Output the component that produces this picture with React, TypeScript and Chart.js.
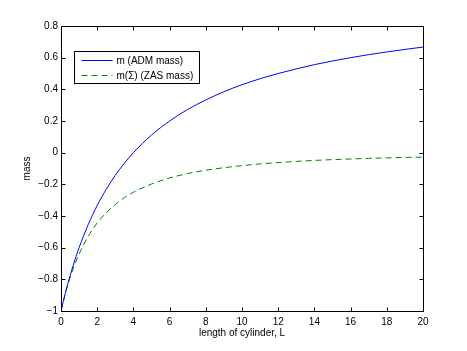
import React, { useEffect, useRef } from "react";
import { Chart, registerables } from "chart.js";

Chart.register(...registerables);

const lengths = [0, 0.25, 0.5, 0.75, 1, 1.5, 2, 2.5, 3, 3.5, 4, 5, 6, 7, 8, 9, 10, 11, 12, 13, 14, 15, 16, 17, 18, 19, 20];
const admMass = [-1, -0.882, -0.778, -0.684, -0.6, -0.455, -0.333, -0.231, -0.143, -0.067, 0, 0.111, 0.2, 0.273, 0.333, 0.385, 0.429, 0.467, 0.5, 0.529, 0.556, 0.579, 0.6, 0.619, 0.636, 0.652, 0.667];
const zasMass = [-1, -0.886, -0.79, -0.709, -0.64, -0.529, -0.444, -0.379, -0.327, -0.284, -0.25, -0.198, -0.16, -0.132, -0.111, -0.095, -0.082, -0.071, -0.0625, -0.055, -0.049, -0.044, -0.04, -0.036, -0.033, -0.03, -0.028];
const seriesLabels = ["m (ADM mass)", "m(\u03A3) (ZAS mass)"];
const xTitle = "length of cylinder, L";
const yTitle = "mass";

const FONT = "'Liberation Sans', Arial, Helvetica, sans-serif";

const fmt = (v: number) => {
  const r = Number(Number(v).toFixed(1));
  const s = String(Math.abs(r));
  return r < 0 ? "\u2212" + s : s;
};

const framePlugin = {
  id: "frame",
  afterDatasetsDraw(chart: any) {
    const { ctx, chartArea: a, scales } = chart;
    const L = Math.round(a.left) + 0.5;
    const R = Math.round(a.right) + 0.5;
    const T = Math.round(a.top) + 0.5;
    const B = Math.round(a.bottom) + 0.5;
    ctx.save();
    ctx.strokeStyle = "#000";
    ctx.lineWidth = 1;
    ctx.setLineDash([]);
    ctx.strokeRect(L, T, R - L, B - T);
    const tl = 4;
    ctx.beginPath();
    scales.x.ticks.forEach((t: any) => {
      const px = Math.round(scales.x.getPixelForValue(t.value)) + 0.5;
      ctx.moveTo(px, B);
      ctx.lineTo(px, B - tl);
      ctx.moveTo(px, T);
      ctx.lineTo(px, T + tl);
    });
    scales.y.ticks.forEach((t: any) => {
      const py = Math.round(scales.y.getPixelForValue(t.value)) + 0.5;
      ctx.moveTo(L, py);
      ctx.lineTo(L + tl, py);
      ctx.moveTo(R, py);
      ctx.lineTo(R - tl, py);
    });
    ctx.stroke();

    // legend
    const bx = Math.round(a.left) + 13.5;
    const by = Math.round(a.top) + 25.5;
    const bw = 125;
    const bh = 32;
    ctx.fillStyle = "#fff";
    ctx.fillRect(bx, by, bw, bh);
    ctx.strokeStyle = "#000";
    ctx.strokeRect(bx, by, bw, bh);
    ctx.font = "10px " + FONT;
    ctx.textBaseline = "middle";
    ctx.textAlign = "left";
    chart.data.datasets.forEach((ds: any, i: number) => {
      const y = by + 9 + i * 15;
      ctx.strokeStyle = ds.borderColor;
      ctx.lineWidth = 1;
      ctx.setLineDash(ds.borderDash || []);
      ctx.beginPath();
      ctx.moveTo(bx + 7, y);
      ctx.lineTo(bx + 38, y);
      ctx.stroke();
      ctx.setLineDash([]);
      ctx.fillStyle = "#000";
      ctx.fillText(ds.label, bx + 42, y + 0.5);
    });
    ctx.restore();
  },
};

export default function App() {
  const ref = useRef<HTMLCanvasElement>(null);
  useEffect(() => {
    if (!ref.current) return;
    const chart = new Chart(ref.current, {
      type: "line",
      data: {
        datasets: [
          {
            label: seriesLabels[0],
            data: lengths.map((x, i) => ({ x, y: admMass[i] })),
            borderColor: "#0000ff",
            borderWidth: 1,
            pointRadius: 0,
            cubicInterpolationMode: "monotone",
            fill: false,
          },
          {
            label: seriesLabels[1],
            data: lengths.map((x, i) => ({ x, y: zasMass[i] })),
            borderColor: "#008000",
            borderWidth: 1,
            borderDash: [6, 4],
            pointRadius: 0,
            cubicInterpolationMode: "monotone",
            fill: false,
          },
        ],
      },
      options: {
        animation: false,
        responsive: true,
        maintainAspectRatio: false,
        layout: { padding: { top: 26, right: 44, left: 0, bottom: 0 } },
        plugins: { legend: { display: false }, tooltip: { enabled: false } },
        scales: {
          x: {
            type: "linear",
            min: 0,
            max: 20,
            grid: { display: false, drawTicks: false },
            border: { display: false },
            ticks: { stepSize: 2, padding: 5, color: "#000", font: { family: FONT, size: 10 }, maxRotation: 0, callback: (v: any) => fmt(v) },
            title: { display: true, text: xTitle, color: "#000", font: { family: FONT, size: 10 }, padding: { top: 0, bottom: 12 } },
            afterFit: (s: any) => { s.height = 40; },
          },
          y: {
            type: "linear",
            min: -1,
            max: 0.8,
            grid: { display: false, drawTicks: false },
            border: { display: false },
            ticks: { stepSize: 0.2, padding: 3, color: "#000", font: { family: FONT, size: 10 }, callback: (v: any) => fmt(v) },
            title: { display: true, text: yTitle, color: "#000", font: { family: FONT, size: 10 }, padding: { top: 21, bottom: 0 } },
            afterFit: (s: any) => { s.width = 61; },
          },
        },
      } as any,
      plugins: [framePlugin],
    });
    return () => chart.destroy();
  }, []);
  return (
    <div style={{ position: "absolute", left: 0, top: 0, width: 467, height: 351, background: "#fff" }}>
      <canvas ref={ref} />
    </div>
  );
}
